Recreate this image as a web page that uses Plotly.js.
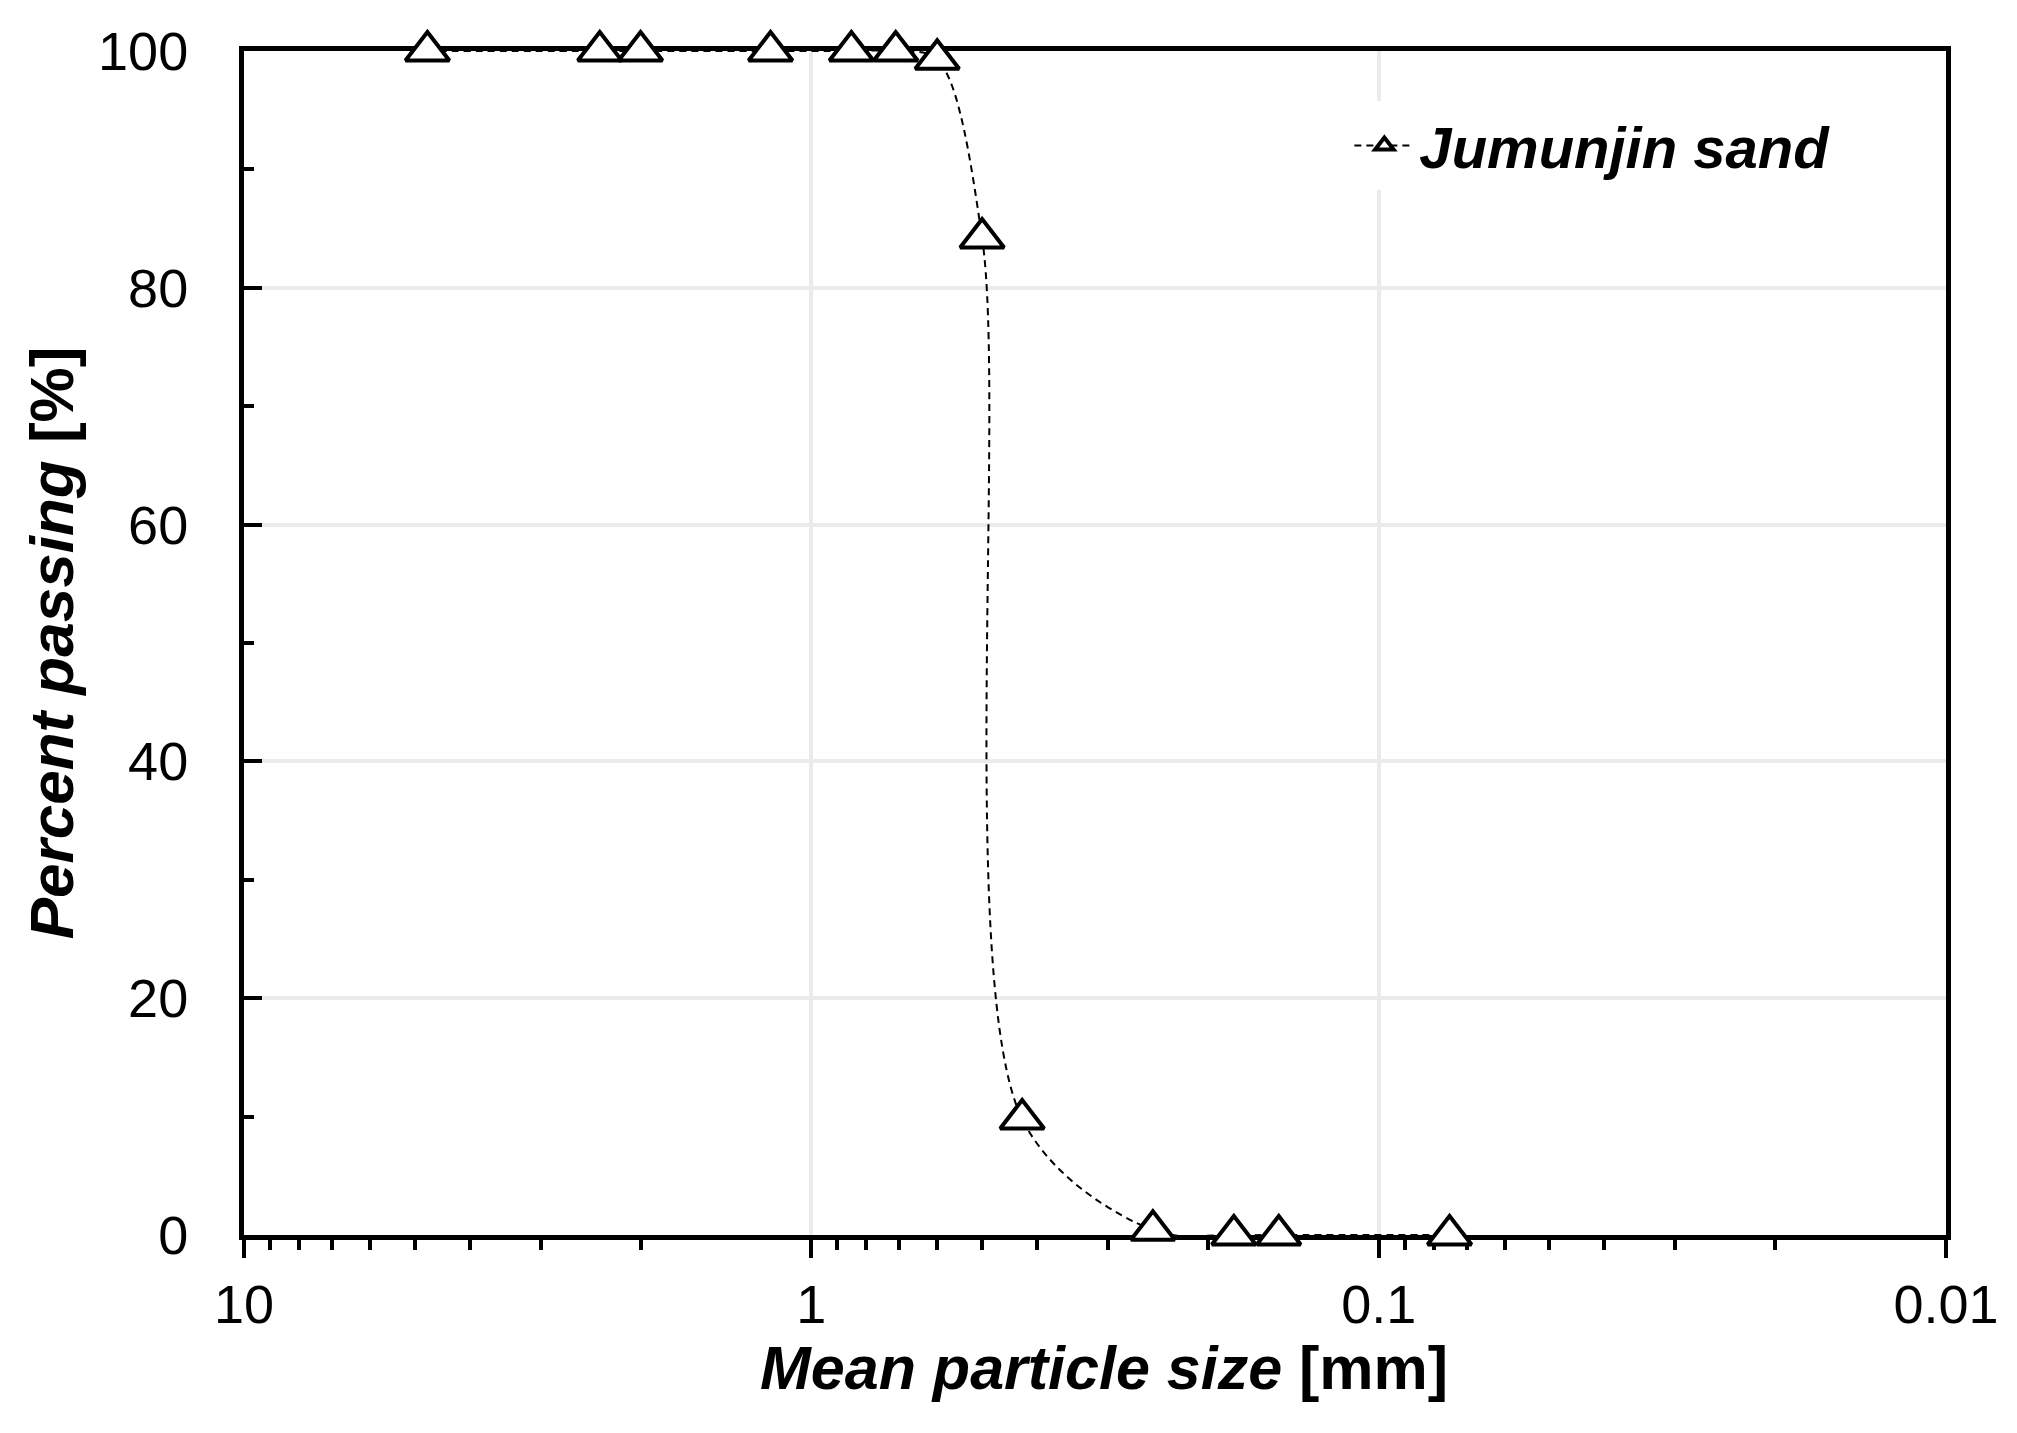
<!DOCTYPE html>
<html>
<head>
<meta charset="utf-8">
<script src="https://cdn.plot.ly/plotly-3.1.0.min.js"></script>
<style>
  html, body { margin: 0; padding: 0; background: #fff; }
  #chart { width: 2017px; height: 1433px; }
</style>
</head>
<body>
<div id="chart"></div>
<script>
// sieve openings [mm] and percent passing
const sizes = [4.75, 2.36, 2.0, 1.18, 0.85, 0.71, 0.6, 0.5, 0.425, 0.25, 0.18, 0.15, 0.075]
const passing = [100, 100, 100, 100, 100, 100, 99.3, 84.2, 9.8, 0.4, 0, 0, 0]
const seriesName = 'Jumunjin sand'

const xTickVals = [10, 1, 0.1, 0.01]
const xTickText = ['10', '1', '0.1', '0.01']
const yTickVals = [0, 20, 40, 60, 80, 100]

const FONT = '"Liberation Sans", Arial, Helvetica, sans-serif'

const trace = {
  x: sizes,
  y: passing,
  name: seriesName,
  type: 'scatter',
  mode: 'lines+markers',
  cliponaxis: false,
  line: { color: '#000', width: 2, dash: '7px,5px', shape: 'spline', smoothing: 0.9 },
  marker: {
    symbol: 'triangle-up',
    size: 38,
    color: '#fff',
    line: { color: '#000', width: 4 }
  }
}

const layout = {
  width: 2017,
  height: 1433,
  margin: { l: 244, r: 71, t: 51, b: 198 },
  paper_bgcolor: '#fff',
  plot_bgcolor: '#fff',
  font: { family: FONT, color: '#000', size: 54 },
  showlegend: true,
  legend: {
    x: 0.935, xanchor: 'right',
    y: 0.92, yanchor: 'middle',
    bgcolor: '#fff',
    itemwidth: 60,
    font: { family: FONT, size: 58, weight: 'bold', style: 'italic' }
  },
  xaxis: {
    type: 'log',
    range: [Math.log10(10), Math.log10(0.01)],
    tickvals: xTickVals,
    ticktext: xTickText,
    ticks: 'outside',
    ticklen: 18,
    tickwidth: 4,
    tickcolor: '#000',
    tickfont: { size: 54 },
    showline: true,
    linecolor: '#000',
    linewidth: 5,
    mirror: true,
    showgrid: true,
    gridcolor: '#ebebeb',
    gridwidth: 4,
    zeroline: false,
    layer: 'below traces',
    minor: { dtick: 'D1', ticks: 'outside', ticklen: 10, tickwidth: 4, tickcolor: '#000', showgrid: false }
  },
  yaxis: {
    range: [0, 100],
    tickvals: yTickVals,
    ticks: 'inside',
    ticklen: 18,
    tickwidth: 4,
    tickcolor: '#000',
    tickfont: { size: 54 },
    ticklabelstandoff: 40,
    showline: true,
    linecolor: '#000',
    linewidth: 5,
    mirror: true,
    showgrid: true,
    gridcolor: '#ebebeb',
    gridwidth: 4,
    zeroline: false,
    layer: 'below traces',
    minor: { dtick: 10, tick0: 0, ticks: 'inside', ticklen: 10, tickwidth: 4, tickcolor: '#000', showgrid: false },
    title: {
      text: '<b><i>Percent passing</i> [%]</b>',
      font: { size: 62 },
      standoff: 6
    }
  },
  annotations: [{
    // x-axis title, placed just under the tick labels
    text: '<b><i>Mean particle size</i> [mm]</b>',
    font: { family: FONT, size: 61, color: '#000' },
    xref: 'paper', yref: 'paper',
    x: 0.5, y: 0,
    xanchor: 'center', yanchor: 'middle',
    xshift: 9, yshift: -133,
    showarrow: false
  }]
}

Plotly.newPlot('chart', [trace], layout, { staticPlot: true })
</script>
</body>
</html>
